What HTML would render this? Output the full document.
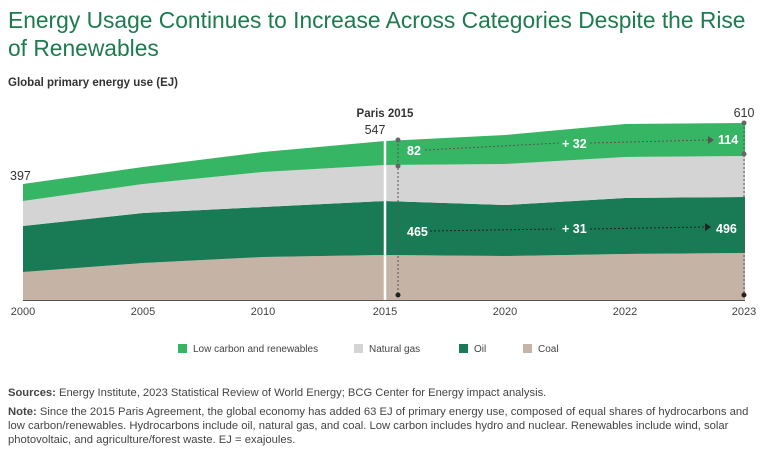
<!DOCTYPE html>
<html><head><meta charset="utf-8"><style>
body{margin:0;width:768px;height:457px;background:#fff;font-family:"Liberation Sans",sans-serif;position:relative;overflow:hidden}
.t{position:absolute;left:8px;top:6px;font-size:22.8px;line-height:28px;color:#1e7a4f;width:760px;white-space:nowrap}
.sub{position:absolute;left:8px;top:77px;font-size:11.5px;font-weight:bold;color:#333}
.src{position:absolute;left:8px;font-size:11px;color:#444;line-height:14px;white-space:nowrap}
</style></head><body>
<div class="t">Energy Usage Continues to Increase Across Categories Despite the Rise<br>of Renewables</div>
<div class="sub">Global primary energy use (EJ)</div>
<svg width="768" height="457" style="position:absolute;left:0;top:0" font-family="Liberation Sans, sans-serif">
<polygon fill="#c5b4a5" points="23,272 143,263 263,257 385,255 505,256 625,254 745,253 745,300 23,300"/>
<polygon fill="#197a56" points="23,226 143,213 263,207 385,201 505,205 625,198 745,197 745,253 625,254 505,256 385,255 263,257 143,263 23,272"/>
<polygon fill="#d4d4d4" points="23,201 143,184 263,172 385,165 505,164 625,157 745,156 745,197 625,198 505,205 385,201 263,207 143,213 23,226"/>
<polygon fill="#36b664" points="23,184 143,167 263,152 385,141 505,135 625,124 745,123 745,156 625,157 505,164 385,165 263,172 143,184 23,201"/>
<line x1="385" y1="138" x2="385" y2="300" stroke="#fff" stroke-width="2.5"/>
<line x1="23" y1="300.5" x2="745" y2="300.5" stroke="#555" stroke-width="1"/>
<g stroke="#555" stroke-dasharray="2,2" stroke-width="1">
<line x1="398" y1="140" x2="398" y2="295"/><line x1="744" y1="123" x2="744" y2="295"/>
<line x1="425" y1="150" x2="560" y2="143"/><line x1="590" y1="143" x2="708" y2="140"/>
</g>
<g stroke="#222" stroke-dasharray="2,2" stroke-width="1">
<line x1="430" y1="231" x2="555" y2="229"/><line x1="590" y1="229" x2="705" y2="227"/>
</g>
<polygon points="708,136 714,140 708,144" fill="#555"/><polygon points="705,223 711,227 705,231" fill="#222"/>
<g fill="#666"><circle cx="398" cy="140" r="2.5"/><circle cx="398" cy="166" r="2.5"/><circle cx="744" cy="123" r="2.5"/><circle cx="744" cy="154" r="2.5"/></g>
<g fill="#222"><circle cx="398" cy="295" r="2.5"/><circle cx="744" cy="295" r="2.5"/></g>
<g fill="#fff" font-weight="bold" font-size="12.5">
<text x="407" y="155">82</text><text x="562" y="148">+ 32</text><text x="718" y="144">114</text>
<text x="407" y="236">465</text><text x="562" y="233">+ 31</text><text x="716" y="233">496</text>
</g>
<g fill="#333" font-size="12.5">
<text x="10" y="180">397</text><text x="375" y="134" text-anchor="middle">547</text><text x="744" y="117" text-anchor="middle">610</text>
<text x="385" y="117" text-anchor="middle" font-weight="bold" font-size="11.5">Paris 2015</text>
</g>
<g fill="#444" font-size="11" text-anchor="middle">
<text x="23" y="315">2000</text><text x="143" y="315">2005</text><text x="263" y="315">2010</text><text x="385" y="315">2015</text><text x="505" y="315">2020</text><text x="625" y="315">2022</text><text x="744" y="315">2023</text>
</g>
<g font-size="10" fill="#444">
<rect x="178" y="344" width="9" height="9" fill="#36b664"/><text x="193" y="352">Low carbon and renewables</text>
<rect x="354" y="344" width="9" height="9" fill="#d4d4d4"/><text x="369" y="352">Natural gas</text>
<rect x="459" y="344" width="9" height="9" fill="#197a56"/><text x="474" y="352">Oil</text>
<rect x="523" y="344" width="9" height="9" fill="#c5b4a5"/><text x="538" y="352">Coal</text>
</g>
</svg>
<div class="src" style="top:386px;font-size:11.2px"><b>Sources:</b> Energy Institute, 2023 Statistical Review of World Energy; BCG Center for Energy impact analysis.</div>
<div class="src" style="top:405px;font-size:11.25px"><b>Note:</b> Since the 2015 Paris Agreement, the global economy has added 63 EJ of primary energy use, composed of equal shares of hydrocarbons and<br>low carbon/renewables. Hydrocarbons include oil, natural gas, and coal. Low carbon includes hydro and nuclear. Renewables include wind, solar<br>photovoltaic, and agriculture/forest waste. EJ = exajoules.</div>
</body></html>
